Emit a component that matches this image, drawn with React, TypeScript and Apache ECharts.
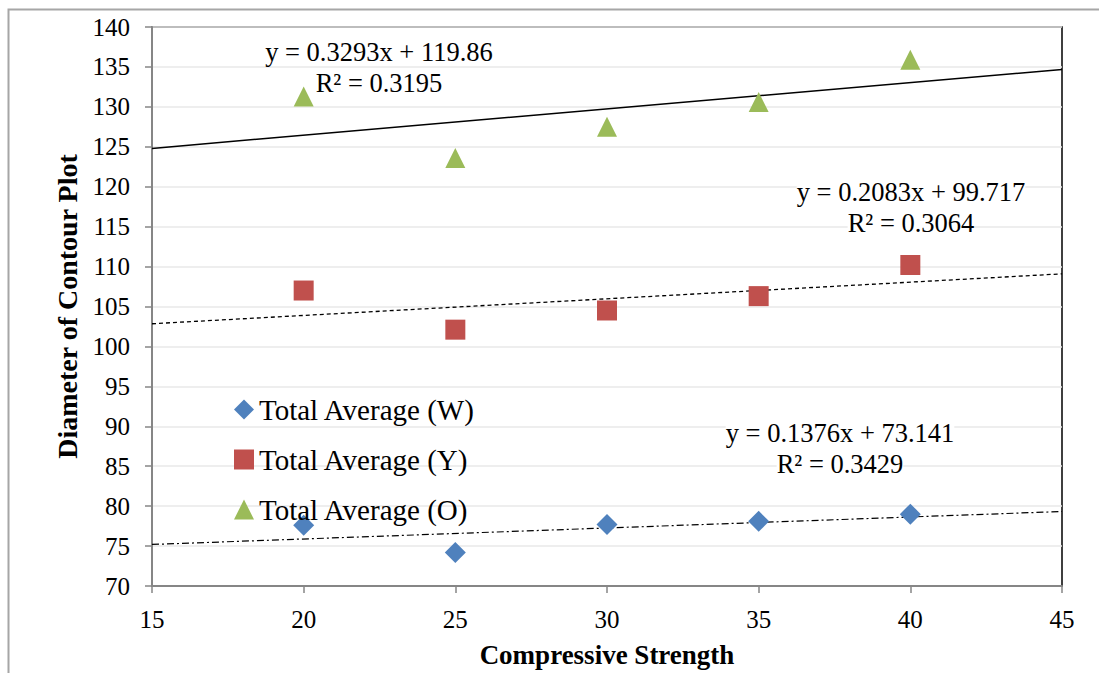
import React, { useEffect, useRef } from "react";
import * as echarts from "echarts";

const xValues = [20, 25, 30, 35, 40];
const seriesW = [77.6, 74.2, 77.7, 78.1, 79.0];
const seriesY = [107.0, 102.1, 104.5, 106.3, 110.2];
const seriesO = [131.3, 123.6, 127.5, 130.6, 135.9];

const trendX = [15, 45];
const trendW = [75.2, 79.33];
const trendY = [102.84, 109.09];
const trendO = [124.8, 134.68];

const eqW = ["y = 0.1376x + 73.141", "R² = 0.3429"];
const eqY = ["y = 0.2083x + 99.717", "R² = 0.3064"];
const eqO = ["y = 0.3293x + 119.86", "R² = 0.3195"];

const FONT = "'Liberation Serif', 'Times New Roman', serif";

const pair = (xs: number[], ys: number[]) => xs.map((x, i) => [x, ys[i]]);

export default function App() {
  const ref = useRef<HTMLDivElement>(null);
  useEffect(() => {
    document.body.style.margin = "0";
    const chart = echarts.init(ref.current!, null, { renderer: "svg" });
    const eqText = (lines: string[], x: number, y: number) =>
      lines.map((line, i) => ({
        type: "text",
        x,
        y: y + i * 31,
        z: 2,
        style: {
          text: line,
          font: `26.5px ${FONT}`,
          fill: "#000",
          textAlign: "center",
          textVerticalAlign: "middle",
          backgroundColor: "#fff",
        },
      }));
    chart.setOption({
      animation: false,
      backgroundColor: "#fff",
      textStyle: { fontFamily: FONT },
      grid: {
        left: 152,
        right: 37,
        top: 27,
        bottom: 87,
        show: true,
        borderColor: "#000",
        borderWidth: 1.5,
      },
      xAxis: {
        type: "value",
        min: 15,
        max: 45,
        interval: 5,
        name: "Compressive Strength",
        nameLocation: "middle",
        nameGap: 55,
        nameTextStyle: { fontFamily: FONT, fontSize: 27, fontWeight: "bold", color: "#000" },
        axisLine: { show: true, lineStyle: { color: "#868686", width: 2 } },
        axisTick: { show: true, length: 7, lineStyle: { color: "#868686", width: 1.5 } },
        axisLabel: { fontFamily: FONT, fontSize: 25, color: "#000", margin: 21 },
        splitLine: { show: false },
      },
      yAxis: {
        type: "value",
        min: 70,
        max: 140,
        interval: 5,
        name: "Diameter of Contour Plot",
        nameLocation: "middle",
        nameGap: 71,
        nameRotate: 90,
        nameTextStyle: { fontFamily: FONT, fontSize: 28, fontWeight: "bold", color: "#000" },
        axisLine: { show: true, lineStyle: { color: "#868686", width: 2 } },
        axisTick: { show: true, length: 7, lineStyle: { color: "#868686", width: 1.5 } },
        axisLabel: { fontFamily: FONT, fontSize: 25, color: "#000", margin: 22 },
        splitLine: { show: true, lineStyle: { color: "#E9E9E9", width: 1.5 } },
      },
      legend: {
        orient: "vertical",
        left: 229,
        top: 390,
        itemWidth: 20,
        itemHeight: 20,
        itemGap: 21,
        textStyle: { fontFamily: FONT, fontSize: 29, color: "#000", lineHeight: 28 },
        data: [
          { name: "Total Average (W)", icon: "diamond" },
          { name: "Total Average (Y)", icon: "rect" },
          { name: "Total Average (O)", icon: "triangle" },
        ],
        selectedMode: false,
      },
      graphic: [
        {
          type: "rect",
          silent: true,
          shape: { x: 8.5, y: 9.5, width: 1300, height: 900 },
          style: { fill: "none", stroke: "#A6A6A6", lineWidth: 2 },
        },
        ...eqText(eqO, 379, 52),
        ...eqText(eqY, 911, 192),
        ...eqText(eqW, 840, 433),
      ],
      series: [
        {
          name: "trendO",
          type: "line",
          data: pair(trendX, trendO),
          symbol: "none",
          lineStyle: { color: "#000", width: 1.5, type: "solid" },
          z: 1,
        },
        {
          name: "trendY",
          type: "line",
          data: pair(trendX, trendY),
          symbol: "none",
          lineStyle: { color: "#000", width: 1.3, type: [4, 3] },
          z: 1,
        },
        {
          name: "trendW",
          type: "line",
          data: pair(trendX, trendW),
          symbol: "none",
          lineStyle: { color: "#000", width: 1.2, type: [7, 3, 2, 3] },
          z: 1,
        },
        {
          name: "Total Average (W)",
          type: "scatter",
          symbol: "diamond",
          symbolSize: 21,
          itemStyle: { color: "#4F81BD", opacity: 1 },
          data: pair(xValues, seriesW),
          z: 3,
        },
        {
          name: "Total Average (Y)",
          type: "scatter",
          symbol: "rect",
          symbolSize: 20,
          itemStyle: { color: "#C0504D", opacity: 1 },
          data: pair(xValues, seriesY),
          z: 3,
        },
        {
          name: "Total Average (O)",
          type: "scatter",
          symbol: "triangle",
          symbolSize: 20,
          itemStyle: { color: "#9BBB59", opacity: 1 },
          data: pair(xValues, seriesO),
          z: 3,
        },
      ],
    });
    return () => chart.dispose();
  }, []);
  return <div ref={ref} style={{ width: 1099, height: 673 }} />;
}
